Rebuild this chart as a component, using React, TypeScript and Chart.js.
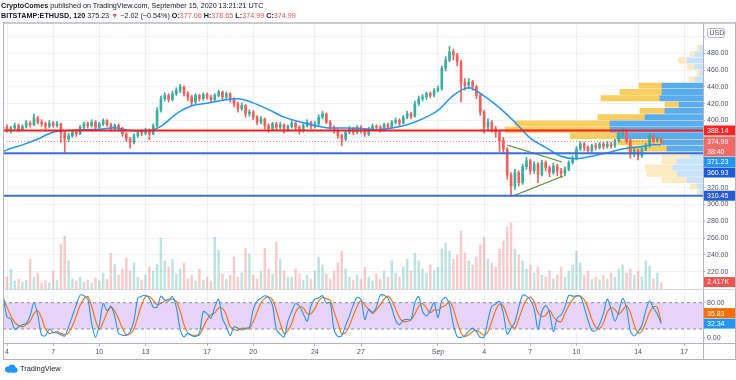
import React, { useEffect, useRef } from "react";
import { Chart, registerables } from "chart.js";

Chart.register(...registerables);

const FONT = "'Liberation Sans', Arial, Helvetica, sans-serif";
const UP = "#3aae9f";
const DOWN = "#f0615e";

// time axis in days, day 0 = 4 Aug 2020 00:00 UTC
const X_MIN = -0.26;
const X_MAX = 45.22;
const BAR_START_DAY = -0.25;
const BAR_STEP_DAY = 0.25;

const timeTickDays = [0, 3, 6, 9, 13, 16, 20, 23, 28, 31, 34, 37, 41, 44];
const timeTickLabels = ["4", "7", "10", "13", "17", "20", "24", "27", "Sep", "4", "7", "10", "14", "17"];
const priceGrid = [220, 240, 260, 280, 300, 320, 340, 360, 380, 400, 420, 440, 460, 480, 500];
const priceHiddenLabels = [340, 360, 380, 500];
const stochTicks = [0, 80];

const FIRST_OPEN = 390;
const closes = [
  392, 388, 391, 394, 389, 393, 397, 395, 403, 398,
  396, 393, 397, 394, 396, 385, 378, 382, 386, 384,
  392, 396, 394, 398, 392, 396, 400, 395, 390, 394,
  391, 384, 378, 374, 382, 386, 385, 388, 384, 394,
  412, 426, 430, 425, 432, 436, 440, 432, 428, 422,
  430, 426, 431, 428, 425, 430, 434, 428, 432, 426,
  420, 414, 418, 408, 410, 404, 398, 402, 394, 390,
  396, 392, 395, 389, 393, 397, 392, 388, 394, 398,
  393, 396, 404, 408, 398, 392, 388, 382, 378, 386,
  390, 386, 392, 388, 384, 390, 393, 392, 389, 395,
  392, 398, 400, 397, 404, 408, 405, 420, 426, 428,
  432, 430, 436, 438, 462, 472, 482, 478, 470, 445,
  442, 446, 440, 430, 410, 392, 398, 390, 386, 376,
  366, 335, 322, 338, 326, 345, 352, 340, 348, 336,
  350, 344, 338, 346, 340, 337, 342, 350, 355, 366,
  372, 368, 364, 370, 368, 372, 369, 372, 370, 376,
  384, 388, 376, 360, 364, 358, 366, 370, 382, 376,
  378, 374.99,
];
const highs = [
  394, 395, 393, 397, 396, 395, 400, 399, 408, 405,
  401, 398, 400, 399, 399, 397, 387, 385, 389, 388,
  394, 398, 398, 401, 400, 398, 402, 401, 397, 396,
  396, 392, 386, 380, 384, 388, 389, 391, 390, 396,
  415, 429, 433, 432, 435, 439, 443, 441, 434, 430,
  432, 431, 433, 433, 430, 432, 436, 435, 434, 433,
  427, 422, 421, 419, 413, 412, 406, 405, 403, 396,
  398, 398, 398, 396, 395, 400, 398, 394, 396, 401,
  399, 399, 407, 411, 409, 400, 394, 390, 384, 388,
  393, 392, 394, 394, 390, 392, 396, 395, 394, 397,
  397, 400, 403, 402, 406, 411, 410, 423, 429, 431,
  434, 434, 438, 441, 465, 476, 488, 485, 480, 472,
  450, 450, 448, 442, 432, 412, 402, 400, 393, 388,
  380, 368, 338, 342, 340, 348, 356, 354, 351, 350,
  353, 352, 346, 349, 348, 343, 345, 352, 358, 369,
  375, 374, 370, 372, 373, 374, 374, 375, 374, 378,
  387, 391, 390, 378, 367, 366, 368, 373, 385, 383,
  380, 378.65,
];
const lows = [
  387, 386, 385, 389, 387, 388, 391, 392, 394, 396,
  393, 390, 391, 392, 392, 374, 362, 375, 380, 381,
  383, 390, 391, 392, 390, 390, 394, 393, 387, 388,
  388, 381, 375, 367, 372, 380, 382, 383, 377, 383,
  392, 410, 423, 422, 423, 430, 433, 429, 424, 418,
  420, 423, 424, 425, 422, 423, 428, 425, 426, 422,
  416, 410, 412, 404, 405, 401, 395, 396, 390, 386,
  388, 389, 390, 385, 387, 391, 389, 384, 386, 392,
  390, 391, 394, 402, 396, 389, 385, 379, 370, 376,
  384, 383, 384, 385, 381, 382, 388, 389, 386, 387,
  390, 391, 396, 394, 396, 402, 402, 404, 418, 423,
  425, 427, 428, 434, 436, 459, 470, 472, 465, 422,
  436, 438, 436, 426, 406, 385, 388, 386, 380, 363,
  362, 330, 310, 318, 322, 324, 342, 336, 337, 326,
  334, 340, 333, 336, 334, 332, 334, 340, 348, 353,
  364, 364, 361, 362, 365, 366, 366, 367, 367, 368,
  374, 381, 373, 355, 357, 353, 356, 364, 368, 373,
  374, 372,
];
const volumeK = [
  6.2, 4.1, 6.9, 2.8, 3.4, 2.4, 3.1, 10.3, 4.1, 5.5,
  2.1, 2.8, 2.1, 6.2, 3.1, 15.5, 18.3, 9.7, 3.4, 2.8,
  4.1, 2.4, 3.1, 2.1, 3.8, 2.8, 5.5, 3.4, 12.4, 8.6,
  4.8, 6.9, 10.7, 6.2, 9.0, 4.1, 3.1, 4.8, 7.6, 6.2,
  8.6, 17.6, 9.7, 7.6, 10.3, 5.2, 6.9, 9.0, 3.4, 4.8,
  2.8, 6.9, 3.1, 4.1, 2.8, 17.9, 13.4, 5.2, 3.4, 4.8,
  11.0, 4.1, 5.5, 14.1, 12.1, 4.8, 3.4, 6.2, 14.1, 6.9,
  5.2, 16.2, 10.3, 6.2, 4.1, 4.1, 6.9, 5.2, 3.1, 4.8,
  3.4, 6.2, 11.0, 8.3, 5.2, 3.4, 6.2, 9.0, 13.1, 6.9,
  4.1, 3.1, 4.8, 3.4, 7.6, 4.1, 2.8, 5.2, 3.4, 6.2,
  4.1, 9.7, 5.5, 4.1, 7.6, 10.3, 6.2, 12.4, 9.7, 6.9,
  5.5, 8.3, 6.2, 7.6, 13.8, 15.9, 13.1, 10.3, 11.7, 20.0,
  12.4, 9.7, 8.3, 11.0, 15.2, 17.9, 10.3, 9.0, 7.6, 13.8,
  16.6, 21.4, 22.8, 13.8, 11.7, 9.7, 6.9, 8.3, 5.5, 7.6,
  4.8, 4.1, 6.2, 3.4, 4.8, 7.6, 4.1, 6.2, 8.3, 13.1,
  9.0, 4.8, 6.2, 3.4, 4.1, 3.1, 4.8, 3.4, 5.5, 4.1,
  6.9, 8.3, 5.5, 6.9, 4.8, 6.2, 4.1, 9.7, 7.9, 3.4,
  5.5, 2.417,
];
const stochK = [
  97, 48, 43, 19, 25, 30, 33, 50, 80, 52,
  6, 5, 20, 12, 11, 7, 4, 25, 50, 75,
  97, 96, 88, 33, 1, 30, 78, 62, 72, 49,
  10, 6, 6, 14, 40, 90, 95, 97, 90, 70,
  70, 95, 86, 84, 94, 70, 20, 2, 10, 5,
  3, 10, 60, 55, 45, 70, 88, 44, 26, 5,
  25, 22, 18, 22, 24, 65, 84, 90, 96, 92,
  74, 20, 8, 2, 38, 60, 78, 72, 55, 38,
  73, 88, 91, 96, 79, 80, 18, 3, 5, 28,
  50, 75, 92, 87, 42, 65, 58, 70, 97, 97,
  90, 68, 40, 30, 40, 42, 41, 80, 94, 60,
  50, 62, 80, 46, 85, 92, 75, 30, 3, 1,
  5, 15, 22, 14, 1, 2, 40, 72, 77, 83,
  55, 8, 22, 36, 70, 97, 95, 86, 66, 20,
  60, 73, 57, 14, 45, 52, 70, 97, 95, 95,
  95, 70, 40, 16, 17, 31, 55, 88, 65, 38,
  60, 90, 68, 15, 4, 14, 28, 62, 84, 68,
  54, 32.34,
];
const stochD = [
  90, 70, 50, 35, 28, 25, 30, 38, 55, 62,
  45, 20, 10, 12, 14, 10, 7, 12, 27, 50,
  74, 89, 94, 72, 40, 20, 36, 57, 70, 61,
  43, 22, 7, 9, 20, 48, 75, 94, 94, 86,
  76, 78, 84, 88, 88, 83, 61, 30, 11, 6,
  6, 6, 24, 42, 53, 57, 68, 67, 52, 25,
  19, 17, 22, 21, 21, 37, 58, 80, 90, 93,
  87, 62, 34, 10, 16, 33, 59, 70, 68, 55,
  55, 66, 84, 92, 89, 85, 59, 34, 9, 12,
  28, 51, 72, 85, 74, 65, 55, 64, 75, 88,
  95, 85, 66, 46, 37, 37, 41, 54, 72, 78,
  68, 57, 64, 63, 70, 74, 84, 66, 36, 11,
  3, 7, 14, 17, 12, 6, 14, 38, 63, 77,
  72, 49, 28, 22, 43, 68, 87, 93, 82, 57,
  49, 51, 63, 48, 39, 37, 56, 73, 87, 96,
  95, 87, 68, 42, 24, 21, 34, 58, 69, 64,
  54, 63, 73, 58, 29, 11, 15, 35, 58, 71,
  69, 35.83,
];

const maDays = [
  -0.25, 0, 1, 2, 3, 4, 5, 6, 7, 8, 9, 10, 11, 12, 13, 14, 15, 16, 17, 18, 19, 20, 21,
  22, 23, 24, 25, 26, 27, 28, 29, 30, 31, 32, 33, 34, 35, 36, 37, 38, 39, 40, 41, 42, 42.5,
];
const maValues = [
  363, 365, 371, 378, 386, 388, 389, 389.5, 391.5, 388, 387.5, 393, 408, 417.5, 420.5, 424, 426, 421, 413, 404, 398.5, 394, 391,
  391, 390.5, 389, 391, 395, 402, 412, 430, 439, 429, 415, 398, 379, 368, 357.5, 354.5, 357.5, 361.5, 366, 368.5, 371, 371.23,
];

const profilePrice = [486.5, 479, 471.5, 464, 456.5, 449, 441.5, 434, 426.5, 419, 411.5, 404, 396.5, 389, 381.5, 374, 366.5, 359, 351.5, 344, 336.5, 329, 321.5, 314];
const profileBuy = [3, 8, 16, 8, 3, 8, 41, 41, 43, 24, 38, 58, 93, 93, 86, 41, 36, 13, 26, 30, 26, 16, 6, 3];
const profileSell = [3, 5, 9, 8, 3, 6, 23, 42, 59, 14, 25, 47, 95, 105, 47, 44, 40, 28, 15, 28, 30, 25, 7, 3];
const VALUE_AREA_HIGH = 442;
const VALUE_AREA_LOW = 362;

const LEVEL_RESIST = 388.14;
const LEVEL_SUPPORT = 360.93;
const LEVEL_LOW = 310.45;
const LAST_PRICE = 374.99;
const MA_LAST = 371.23;
const COUNTDOWN = "38:40";
const LAST_VOLUME = 2.417;
const STOCH_K_LAST = 32.34;
const STOCH_D_LAST = 35.83;

const triUpperDays = [32.49, 36.06];
const triUpperPrices = [370.8, 350.6];
const triLowerDays = [32.88, 36.13];
const triLowerPrices = [310.1, 333.9];

const framePlugin = {
  id: "frame",
  afterDraw(chart: any) {
    const ctx = chart.ctx;
    const ca = chart.chartArea;
    const line = (x1: number, y1: number, x2: number, y2: number, c: string, w = 1) => {
      ctx.strokeStyle = c;
      ctx.lineWidth = w;
      ctx.beginPath();
      ctx.moveTo(x1, y1);
      ctx.lineTo(x2, y2);
      ctx.stroke();
    };
    ctx.save();
    const paneBottom = chart.scales.y.bottom;
    line(3, 23, 736, 23, "#c9cbd1", 2);
    line(3.5, 22, 3.5, 359.5, "#b2b5be");
    line(735.5, 22, 735.5, 359.5, "#b2b5be");
    line(3, 359.5, 736, 359.5, "#b2b5be");
    line(ca.right + 0.5, 23, ca.right + 0.5, 359.5, "#b2b5be");
    line(3, ca.bottom + 0.5, 736, ca.bottom + 0.5, "#b2b5be");
    line(3, Math.round(paneBottom) + 0.5, 736, Math.round(paneBottom) + 0.5, "#d1d4dc");
    ctx.restore();
  },
};

const labelsPlugin = {
  id: "axisLabels",
  afterDraw(chart: any) {
    const ctx = chart.ctx;
    const y = chart.scales.y;
    const yS = chart.scales.yS;
    const yV = chart.scales.yV;
    const left = chart.chartArea.right + 1;
    const w = 31;
    ctx.save();
    ctx.font = `7px ${FONT}`;
    ctx.textBaseline = "middle";
    ctx.textAlign = "left";
    const box = (lines: string[], top: number, bg: string) => {
      ctx.fillStyle = bg;
      ctx.fillRect(left, top, w, lines.length * 10);
      ctx.fillStyle = "#ffffff";
      lines.forEach((t, i) => ctx.fillText(t, left + 3, top + 5.5 + i * 10));
    };
    // USD box
    ctx.strokeStyle = "#b2b5be";
    ctx.lineWidth = 1;
    ctx.fillStyle = "#ffffff";
    ctx.beginPath();
    (ctx as any).roundRect ? (ctx as any).roundRect(707.5, 28.5, 17, 9, 2) : ctx.rect(707.5, 28.5, 17, 9);
    ctx.fill();
    ctx.stroke();
    ctx.fillStyle = "#4c525e";
    ctx.fillText("USD", 709.5, 33.5);

    const main = [
      { lines: [LEVEL_RESIST.toFixed(2)], v: LEVEL_RESIST, bg: "#ff2222" },
      { lines: [LAST_PRICE.toFixed(2), COUNTDOWN], v: LAST_PRICE, bg: "#f06a67" },
      { lines: [MA_LAST.toFixed(2)], v: MA_LAST, bg: "#2196f3" },
      { lines: [LEVEL_SUPPORT.toFixed(2)], v: LEVEL_SUPPORT, bg: "#1f5bd6" },
      { lines: [LEVEL_LOW.toFixed(2)], v: LEVEL_LOW, bg: "#2a5bd7" },
    ]
      .map((l) => ({ ...l, top: y.getPixelForValue(l.v) - 5 }))
      .sort((a, b) => a.top - b.top);
    let prevBottom = -Infinity;
    for (const l of main) {
      const top = Math.max(l.top, prevBottom + 0.5);
      box(l.lines, top, l.bg);
      prevBottom = top + l.lines.length * 10;
    }
    box([LAST_VOLUME.toFixed(3) + "K"], yV.getPixelForValue(LAST_VOLUME) - 5, "#ef5350");
    const kTop = yS.getPixelForValue(STOCH_K_LAST) - 5;
    box([STOCH_K_LAST.toFixed(2)], kTop, "#2196f3");
    const dTop = Math.min(yS.getPixelForValue(STOCH_D_LAST) - 5, kTop - 10.5);
    box([STOCH_D_LAST.toFixed(2)], dTop, "#ff6d00");
    ctx.restore();
  },
};

export default function App() {
  const canvasRef = useRef<HTMLCanvasElement | null>(null);

  useEffect(() => {
    const canvas = canvasRef.current;
    if (!canvas) return;
    const barDays = closes.map((_, i) => BAR_START_DAY + i * BAR_STEP_DAY);
    const opens = closes.map((_, i) => (i === 0 ? FIRST_OPEN : closes[i - 1]));
    const isUp = closes.map((c, i) => c >= opens[i]);
    const span = (v: number) => [
      { x: X_MIN, y: v },
      { x: X_MAX, y: v },
    ];
    const inVA = profilePrice.map((p) => p <= VALUE_AREA_HIGH && p >= VALUE_AREA_LOW);

    const tickFont = { family: FONT, size: 7 };

    const chart = new Chart(canvas, {
      type: "bar",
      data: {
        datasets: [
          {
            type: "line",
            label: "Stoch %K",
            xAxisID: "x",
            yAxisID: "yS",
            data: barDays.map((d, i) => ({ x: d, y: stochK[i] })),
            borderColor: "#2196f3",
            borderWidth: 1.1,
            pointRadius: 0,
            tension: 0.3,
            order: 0,
          },
          {
            type: "line",
            label: "Stoch %D",
            xAxisID: "x",
            yAxisID: "yS",
            data: barDays.map((d, i) => ({ x: d, y: stochD[i] })),
            borderColor: "#ff6d00",
            borderWidth: 1.1,
            pointRadius: 0,
            tension: 0.3,
            order: 1,
          },
          {
            type: "line",
            label: "Upper band",
            xAxisID: "x",
            yAxisID: "yS",
            data: span(80),
            borderColor: "#8a8d96",
            borderDash: [3, 3],
            borderWidth: 1,
            pointRadius: 0,
            fill: { value: 20 },
            backgroundColor: "#e8d4fb",
            order: 8,
          },
          {
            type: "line",
            label: "Lower band",
            xAxisID: "x",
            yAxisID: "yS",
            data: span(20),
            borderColor: "#8a8d96",
            borderDash: [3, 3],
            borderWidth: 1,
            pointRadius: 0,
            order: 7,
          },
          {
            type: "line",
            label: "Resistance",
            xAxisID: "x",
            yAxisID: "y",
            data: span(LEVEL_RESIST),
            borderColor: "#ff1a1a",
            borderWidth: 2,
            pointRadius: 0,
            order: 2,
          },
          {
            type: "line",
            label: "Support",
            xAxisID: "x",
            yAxisID: "y",
            data: span(LEVEL_SUPPORT),
            borderColor: "#3d6fd8",
            borderWidth: 2,
            pointRadius: 0,
            order: 2,
          },
          {
            type: "line",
            label: "Low",
            xAxisID: "x",
            yAxisID: "y",
            data: span(LEVEL_LOW),
            borderColor: "#3d6fd8",
            borderWidth: 2,
            pointRadius: 0,
            order: 2,
          },
          {
            type: "line",
            label: "Last price",
            xAxisID: "x",
            yAxisID: "y",
            data: span(LAST_PRICE),
            borderColor: "rgba(239,83,80,0.7)",
            borderWidth: 1,
            borderDash: [1, 2],
            pointRadius: 0,
            order: 3,
          },
          {
            type: "line",
            label: "Triangle upper",
            xAxisID: "x",
            yAxisID: "y",
            data: triUpperDays.map((d, i) => ({ x: d, y: triUpperPrices[i] })),
            borderColor: "#4f8f2a",
            borderWidth: 1.2,
            pointRadius: 0,
            order: 3,
          },
          {
            type: "line",
            label: "Triangle lower",
            xAxisID: "x",
            yAxisID: "y",
            data: triLowerDays.map((d, i) => ({ x: d, y: triLowerPrices[i] })),
            borderColor: "#4f8f2a",
            borderWidth: 1.2,
            pointRadius: 0,
            order: 3,
          },
          {
            type: "line",
            label: "MA",
            xAxisID: "x",
            yAxisID: "y",
            data: maDays.map((d, i) => ({ x: d, y: maValues[i] })),
            borderColor: "#2196f3",
            borderWidth: 1.5,
            pointRadius: 0,
            cubicInterpolationMode: "monotone",
            order: 3,
          },
          {
            type: "bar",
            label: "Bodies",
            xAxisID: "x",
            yAxisID: "y",
            data: barDays.map((d, i) => ({ x: d, y: [opens[i], closes[i]] })) as any,
            backgroundColor: isUp.map((u) => (u ? UP : DOWN)),
            borderWidth: 0,
            barThickness: 2,
            grouped: false,
            order: 4,
          },
          {
            type: "bar",
            label: "Wicks",
            xAxisID: "x",
            yAxisID: "y",
            data: barDays.map((d, i) => ({ x: d, y: [lows[i], highs[i]] })) as any,
            backgroundColor: isUp.map((u) => (u ? UP : DOWN)),
            borderWidth: 0,
            barThickness: 1,
            grouped: false,
            order: 5,
          },
          {
            type: "bar",
            label: "Volume",
            xAxisID: "x",
            yAxisID: "yV",
            data: barDays.map((d, i) => ({ x: d, y: volumeK[i] })),
            backgroundColor: isUp.map((u) => (u ? "rgba(38,166,154,0.3)" : "rgba(239,83,80,0.3)")),
            borderWidth: 0,
            barThickness: 1.8,
            grouped: false,
            order: 9,
          },
          {
            type: "bar",
            label: "Profile up",
            indexAxis: "y",
            xAxisID: "xP",
            yAxisID: "y",
            data: profilePrice.map((p, i) => ({ y: p, x: [0, profileBuy[i]] })) as any,
            backgroundColor: inVA.map((v) => (v ? "#5aaced" : "#c8e3f7")),
            borderWidth: 0,
            barThickness: 5.2,
            grouped: false,
            order: 10,
          },
          {
            type: "bar",
            label: "Profile down",
            indexAxis: "y",
            xAxisID: "xP",
            yAxisID: "y",
            data: profilePrice.map((p, i) => ({ y: p, x: [profileBuy[i], profileBuy[i] + profileSell[i]] })) as any,
            backgroundColor: inVA.map((v) => (v ? "#f9cd5f" : "#fdeac1")),
            borderWidth: 0,
            barThickness: 5.2,
            grouped: false,
            order: 10,
          },
        ],
      },
      options: {
        animation: false,
        responsive: false,
        events: [],
        layout: { padding: { left: 3, top: 24, right: 1, bottom: 21 }, autoPadding: false },
        plugins: { legend: { display: false }, tooltip: { enabled: false } },
        scales: {
          x: {
            type: "linear",
            position: "bottom",
            min: X_MIN,
            max: X_MAX,
            offset: false,
            border: { display: false },
            grid: { color: "#eef0f5", offset: false, drawTicks: true, tickLength: 3, tickColor: "#b2b5be" },
            afterBuildTicks: (s: any) => {
              s.ticks = timeTickDays.map((v) => ({ value: v }));
            },
            ticks: {
              autoSkip: false,
              maxRotation: 0,
              padding: 2,
              color: "#4c525e",
              font: tickFont,
              callback: (_v: any, i: number) => timeTickLabels[i],
            },
            afterFit: (s: any) => {
              s.height = 16;
            },
          },
          y: {
            type: "linear",
            position: "right",
            stack: "panes",
            stackWeight: 265,
            min: 199.4,
            max: 514.9,
            offset: false,
            border: { display: false },
            grid: { color: "#f0f2f6", offset: false, drawTicks: true, tickLength: 2, tickColor: "#b2b5be" },
            afterBuildTicks: (s: any) => {
              s.ticks = priceGrid.map((v) => ({ value: v }));
            },
            ticks: {
              autoSkip: false,
              padding: 2,
              color: "#4c525e",
              font: tickFont,
              callback: (v: any) => (priceHiddenLabels.includes(Number(v)) ? "" : Number(v).toFixed(2)),
            },
            afterFit: (s: any) => {
              s.width = 32;
            },
          },
          yS: {
            type: "linear",
            position: "right",
            stack: "panes",
            stackWeight: 54,
            min: -11.9,
            max: 111.3,
            offset: false,
            border: { display: false },
            grid: { color: "#f0f2f6", offset: false, drawTicks: true, tickLength: 2, tickColor: "#b2b5be" },
            afterBuildTicks: (s: any) => {
              s.ticks = stochTicks.map((v) => ({ value: v }));
            },
            ticks: {
              autoSkip: false,
              padding: 2,
              color: "#4c525e",
              font: tickFont,
              callback: (v: any) => Number(v).toFixed(2),
            },
            afterFit: (s: any) => {
              s.width = 32;
            },
          },
          yV: {
            type: "linear",
            position: "left",
            display: false,
            min: -18.6,
            max: 91.4,
            offset: false,
          },
          xP: {
            type: "linear",
            axis: "x",
            position: "bottom",
            display: false,
            reverse: true,
            min: 0,
            max: 700,
            offset: false,
          },
        },
      } as any,
      plugins: [framePlugin, labelsPlugin],
    } as any);
    return () => chart.destroy();
  }, []);

  const red = { color: "#ef5350" };
  const textStyle: React.CSSProperties = {
    position: "absolute",
    left: 1,
    fontFamily: FONT,
    fontSize: "7.2px",
    lineHeight: "12px",
    color: "#131722",
    whiteSpace: "nowrap",
  };

  return (
    <div style={{ position: "fixed", left: 0, top: 0, width: 736, height: 380, background: "#ffffff", overflow: "hidden" }}>
      <canvas ref={canvasRef} width={736} height={380} style={{ position: "absolute", left: 0, top: 0, width: 736, height: 380 }} />
      <div style={{ ...textStyle, top: 0 }}>
        <b>CryptoComes</b> published on TradingView.com, September 15, 2020 13:21:21 UTC
      </div>
      <div style={{ ...textStyle, top: 10 }}>
        <b>BITSTAMP:ETHUSD, 120</b> 375.23 <span style={red}>▼</span> −2.02 (−0.54%) <b>O:</b>
        <span style={red}>377.06</span> <b>H:</b>
        <span style={red}>378.65</span> <b>L:</b>
        <span style={red}>374.99</span> <b>C:</b>
        <span style={red}>374.99</span>
      </div>
      <div style={{ position: "absolute", left: 4, top: 364, display: "flex", alignItems: "center", fontFamily: FONT, fontSize: "7.4px", color: "#131722" }}>
        <svg width="14" height="9" viewBox="0 0 14 9" style={{ marginRight: 2 }}>
          <circle cx="4" cy="5.5" r="3" fill="#2196f3" />
          <circle cx="8" cy="4" r="3.6" fill="#2196f3" />
          <circle cx="11" cy="6" r="2.6" fill="#2196f3" />
          <rect x="4" y="5.5" width="7" height="3.1" fill="#2196f3" />
        </svg>
        <span>TradingView</span>
      </div>
    </div>
  );
}
